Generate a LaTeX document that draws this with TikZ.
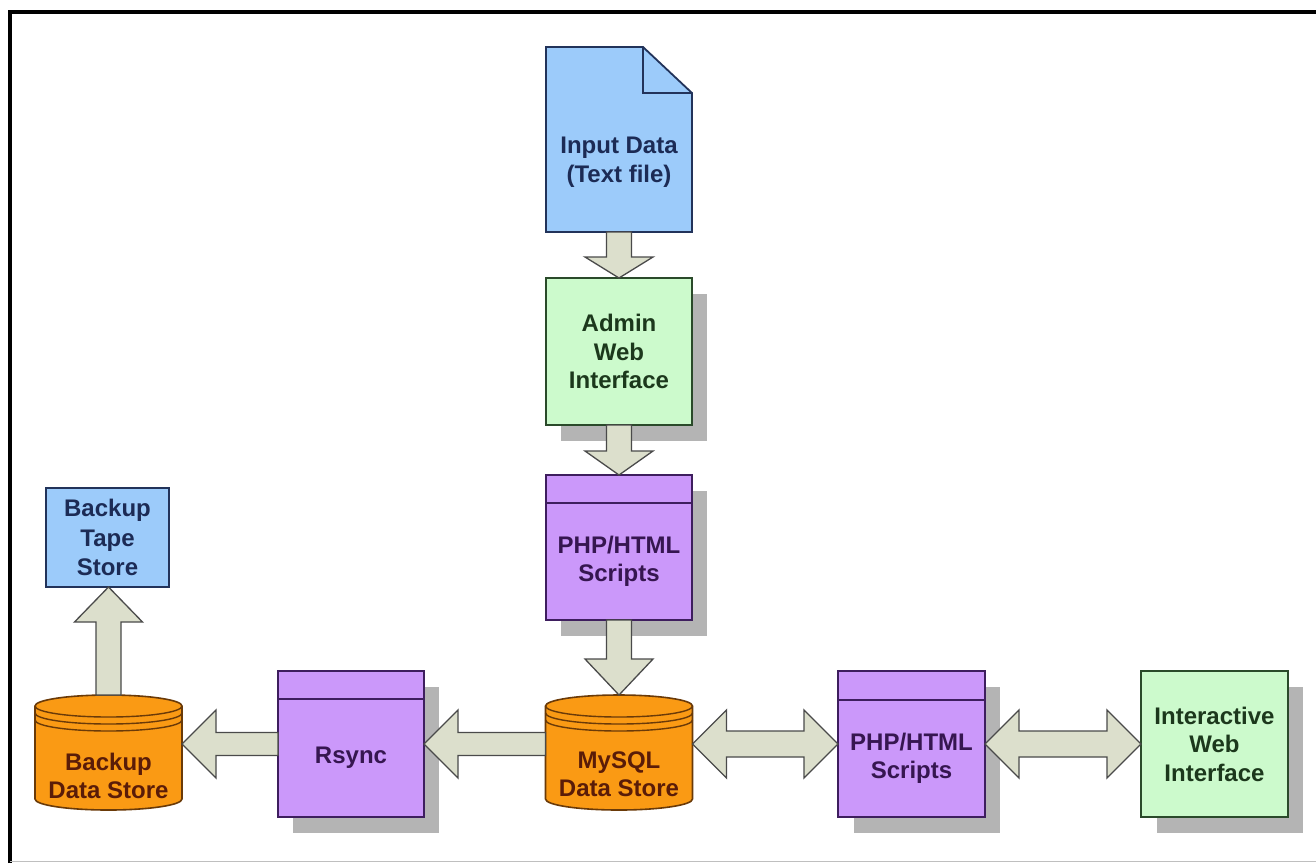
\documentclass[tikz,border=0pt]{standalone}
\usepackage{fontspec}
\setmainfont{Liberation Sans}
\usetikzlibrary{calc}
\definecolor{bluef}{HTML}{9CCBFA}
\definecolor{bluel}{HTML}{22335A}
\definecolor{bluet}{HTML}{1C2B55}
\definecolor{greenf}{HTML}{CCFACC}
\definecolor{greenl}{HTML}{2A4A2A}
\definecolor{greent}{HTML}{1C381C}
\definecolor{purplef}{HTML}{CB98FA}
\definecolor{purplel}{HTML}{3E1E5E}
\definecolor{purplet}{HTML}{361650}
\definecolor{orangef}{HTML}{FA9A14}
\definecolor{orangel}{HTML}{6A3A08}
\definecolor{oranget}{HTML}{5A1C08}
\definecolor{arrf}{HTML}{DCDFCC}
\definecolor{arrl}{HTML}{4A4A4A}
\definecolor{shadowc}{HTML}{B4B4B4}
\tikzset{
  lbl/.style={font=\fontsize{24}{28.5}\selectfont\bfseries, align=center, inner sep=0pt},
  boxshape/.style={draw, line width=1.8pt, inner sep=0pt, outer sep=0pt, minimum width=146pt, minimum height=146pt},
  greenbox/.style={boxshape, fill=greenf, draw=greenl, text=greent},
  purplebox/.style={boxshape, fill=purplef, draw=purplel},
  bluebox/.style={boxshape, fill=bluef, draw=bluel, text=bluet},
  ghost/.style={inner sep=0pt, outer sep=0pt},
  blk/.style={fill=arrf, draw=arrl, line width=1.3pt, line join=miter},
  cyl/.style={fill=orangef, draw=orangel, line width=1.6pt},
  shadowbox/.style={fill=shadowc},
}
% arrow pointing down: tail node #1 (south), head node #2 (north), head length #3
\newcommand\arrdown[3]{\draw[blk] let \p1=(#1.south), \p2=(#2.north) in
  (\x1-12.5pt,\y1) -- (\x1-12.5pt,\y2+#3pt) -- (\x1-34pt,\y2+#3pt) -- (\x1,\y2)
  -- (\x1+34pt,\y2+#3pt) -- (\x1+12.5pt,\y2+#3pt) -- (\x1+12.5pt,\y1) -- cycle;}
% arrow pointing up: tail node #1 (north), head node #2 (south), head length #3
\newcommand\arrup[3]{\draw[blk] let \p1=(#1.north), \p2=(#2.south) in
  (\x1-12.5pt,\y1) -- (\x1-12.5pt,\y2-#3pt) -- (\x1-34pt,\y2-#3pt) -- (\x1,\y2)
  -- (\x1+34pt,\y2-#3pt) -- (\x1+12.5pt,\y2-#3pt) -- (\x1+12.5pt,\y1) -- cycle;}
% arrow pointing left: tip point #1, tail point #2
\newcommand\arrleft[2]{\draw[blk] let \p1=#1, \p2=#2 in
  (\x2,\y1-11.5pt) -- (\x1+34pt,\y1-11.5pt) -- (\x1+34pt,\y1-34pt) -- (\x1,\y1)
  -- (\x1+34pt,\y1+34pt) -- (\x1+34pt,\y1+11.5pt) -- (\x2,\y1+11.5pt) -- cycle;}
% double arrow: left tip #1, right tip #2
\newcommand\arrboth[2]{\draw[blk] let \p1=#1, \p2=#2 in
  (\x1,\y1) -- (\x1+34pt,\y1+34pt) -- (\x1+34pt,\y1+13pt) -- (\x2-34pt,\y1+13pt)
  -- (\x2-34pt,\y1+34pt) -- (\x2,\y1) -- (\x2-34pt,\y1-34pt) -- (\x2-34pt,\y1-13pt)
  -- (\x1+34pt,\y1-13pt) -- (\x1+34pt,\y1-34pt) -- cycle;}
% cylinder drawn inside a ghost node #1
\newcommand\drawcyl[1]{%
  \path[cyl] let \p1=(#1.north west), \p2=(#1.south east) in
    (\x1,\y1-11pt) -- (\x1,\y2+11pt)
    arc[start angle=180,end angle=360,x radius=0.5*\x2-0.5*\x1,y radius=11pt]
    -- (\x2,\y1-11pt)
    arc[start angle=0,end angle=180,x radius=0.5*\x2-0.5*\x1,y radius=11pt] -- cycle;
  \foreach \d in {11,18,25}{
    \draw[draw=orangel, line width=1.4pt] let \p1=(#1.north west), \p2=(#1.south east) in
      (\x1,\y1-\d pt) arc[start angle=180,end angle=360,x radius=0.5*\x2-0.5*\x1,y radius=11pt];}
}
\begin{document}
\begin{tikzpicture}[x=1pt,y=-1pt]
\useasboundingbox (0,0) rectangle (1316,863);
\fill[white] (0,0) rectangle (1316,863);
% frame
\draw[line width=4pt, black] (10,863) -- (10,12) -- (1316,12);
\draw[line width=1pt, black!25] (10,861.5) -- (1316,861.5);

% ghost nodes (positions)
\node[ghost, minimum width=146pt, minimum height=185pt] (doc) at (619,139.5) {};
\node[ghost, minimum width=147pt, minimum height=115pt] (mysql) at (619,752.5) {};
\node[ghost, minimum width=147pt, minimum height=115pt] (backup) at (108.5,752.5) {};

% shadows
\foreach \c/\s in {{619,351.5}/147, {619,547.5}/145, {351,744}/146, {911.5,744}/146, {1214.5,744}/146}{
  \fill[shadowbox] ($(\c)+(-73+15,-\s/2+16)$) rectangle ($(\c)+(73+15,\s/2+16)$);
}

% document shape
\draw[fill=bluef, draw=bluel, line width=1.8pt, line join=miter]
  (doc.north west) -- ($(doc.north east)+(-49,0)$) -- ($(doc.north east)+(0,46)$)
  -- (doc.south east) -- (doc.south west) -- cycle;
\draw[draw=bluel, line width=1.6pt] ($(doc.north east)+(-49,0)$) -- ($(doc.north east)+(-49,46)$) -- ($(doc.north east)+(0,46)$);
\node[lbl, text=bluet] (doct) at (619,162) {Input Data\\(Text file)};

% boxes
\node[greenbox, minimum height=147pt] (admin) at (619,351.5) {};
\node[lbl, text=greent] (admint) at (admin) {Admin\\Web\\Interface};

\node[purplebox, minimum height=145pt] (php1) at (619,547.5) {};
\draw[draw=purplel, line width=1.6pt] ($(php1.north west)+(0,28)$) -- ($(php1.north east)+(0,28)$);
\node[lbl, text=purplet] (php1t) at (619,561.5) {PHP/HTML\\Scripts};

\node[purplebox] (rsync) at (351,744) {};
\draw[draw=purplel, line width=1.6pt] ($(rsync.north west)+(0,28)$) -- ($(rsync.north east)+(0,28)$);
\node[lbl, text=purplet] (rsynct) at (351,758) {Rsync};

\node[purplebox, minimum width=147pt] (php2) at (911.5,744) {};
\draw[draw=purplel, line width=1.6pt] ($(php2.north west)+(0,29)$) -- ($(php2.north east)+(0,29)$);
\node[lbl, text=purplet] (php2t) at (911.5,758.5) {PHP/HTML\\Scripts};

\node[greenbox, minimum width=147pt] (inter) at (1214.5,744) {};
\node[lbl, text=greent] (intert) at (inter) {Interactive\\Web\\Interface};

\node[bluebox, minimum width=123pt, minimum height=99pt] (tape) at (107.5,537.5) {};
\node[lbl, text=bluet, font=\fontsize{24}{29.5}\selectfont\bfseries] (tapet) at (tape) {Backup\\Tape\\Store};

% cylinders
\drawcyl{mysql}
\node[lbl, text=oranget] (mysqlt) at (619,774) {MySQL\\Data Store};
\drawcyl{backup}
\node[lbl, text=oranget] (backupt) at (108.5,776) {Backup\\Data Store};

% block arrows
\arrdown{doc}{admin}{21}
\arrdown{admin}{php1}{24}
\arrdown{php1}{mysql}{36}
\arrup{backup}{tape}{35}
\arrleft{(rsync.east)}{(mysql.west |- rsync.east)}
\arrleft{(backup.east |- rsync.west)}{(rsync.west)}
\arrboth{(mysql.east |- php2.west)}{(php2.west)}
\arrboth{(php2.east)}{(inter.west)}
\end{tikzpicture}
\end{document}
